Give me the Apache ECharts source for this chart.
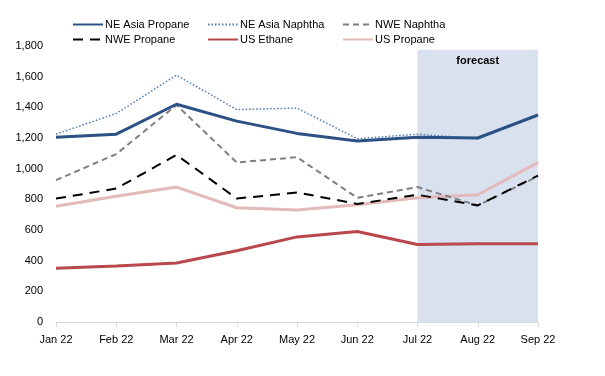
<!DOCTYPE html>
<html>
<head>
<meta charset="utf-8">
<script src="https://cdn.jsdelivr.net/npm/echarts@6/dist/echarts.min.js"></script>
<style>
  html, body { margin: 0; padding: 0; background: #fff; }
  #chart { width: 605px; height: 376px; }
</style>
</head>
<body>
<div id="chart"></div>
<script>
  var months = ['Jan 22', 'Feb 22', 'Mar 22', 'Apr 22', 'May 22', 'Jun 22', 'Jul 22', 'Aug 22', 'Sep 22'];
  var neAsiaPropane = [1205, 1225, 1420, 1310, 1230, 1180, 1205, 1200, 1350];
  var neAsiaNaphtha = [1225, 1360, 1610, 1385, 1395, 1195, 1225, 1195, 1350];
  var nweNaphtha = [925, 1095, 1415, 1040, 1075, 810, 880, 760, 950];
  var nwePropane = [805, 870, 1090, 805, 845, 770, 830, 760, 955];
  var usEthane = [350, 365, 385, 465, 555, 590, 505, 510, 510];
  var usPropane = [755, 820, 880, 745, 730, 765, 810, 830, 1040];
  var forecastFrom = 'Jul 22';
  var forecastTo = 'Sep 22';

  var font = '"Liberation Sans", Arial, sans-serif';

  function legendAt(name, left, top) {
    return {
      data: [name],
      left: left,
      top: top,
      itemWidth: 30,
      itemHeight: 10,
      padding: 0,
      itemStyle: { opacity: 0 },
      textStyle: { fontFamily: font, fontSize: 11, color: '#000', padding: [0, 0, 0, -3] }
    };
  }

  var chart = echarts.init(document.getElementById('chart'));
  chart.setOption({
    animation: false,
    textStyle: { fontFamily: font },
    legend: [
      legendAt('NE Asia Propane', 72, 19),
      legendAt('NE Asia Naphtha', 207, 19),
      legendAt('NWE Naphtha', 342, 19),
      legendAt('NWE Propane', 72, 34),
      legendAt('US Ethane', 207, 34),
      legendAt('US Propane', 342, 34)
    ],
    grid: { left: 56, right: 67, top: 46, bottom: 54 },
    xAxis: {
      type: 'category',
      data: months,
      boundaryGap: false,
      axisLine: { lineStyle: { color: '#d9d9d9', width: 1 } },
      axisTick: { show: true, alignWithLabel: true, length: 5, lineStyle: { color: '#d9d9d9' } },
      axisLabel: { color: '#000', fontSize: 11, margin: 12, fontFamily: font },
      splitLine: { show: false }
    },
    yAxis: {
      type: 'value',
      min: 0,
      max: 1800,
      interval: 200,
      axisLine: { show: false },
      axisTick: { show: false },
      splitLine: { show: false },
      axisLabel: {
        color: '#000', fontSize: 11, margin: 13, fontFamily: font,
        formatter: function (v) { return v.toLocaleString('en-US'); }
      }
    },
    series: [
      {
        name: 'NE Asia Propane', type: 'line', data: neAsiaPropane, symbol: 'none', z: 6,
        lineStyle: { color: '#2c5184', width: 3 }, itemStyle: { color: '#2c5184' },
        markArea: {
          silent: true,
          z: 0,
          itemStyle: { color: '#d9e1ef' },
          label: {
            show: true, position: 'insideTop', distance: 6,
            color: '#000', fontWeight: 'bold', fontSize: 11, fontFamily: font
          },
          data: [[{ name: 'forecast', xAxis: forecastFrom, yAxis: 0 }, { xAxis: forecastTo, yAxis: 1775 }]]
        }
      },
      {
        name: 'NE Asia Naphtha', type: 'line', data: neAsiaNaphtha, symbol: 'none', z: 5,
        lineStyle: { color: '#4f7bb0', width: 1.5, type: [1.5, 2] }, itemStyle: { color: '#4f7bb0' }
      },
      {
        name: 'NWE Naphtha', type: 'line', data: nweNaphtha, symbol: 'none', z: 4,
        lineStyle: { color: '#7f7f7f', width: 2, type: [6, 4] }, itemStyle: { color: '#7f7f7f' }
      },
      {
        name: 'NWE Propane', type: 'line', data: nwePropane, symbol: 'none', z: 4,
        lineStyle: { color: '#000', width: 2, type: [10, 7] }, itemStyle: { color: '#000' }
      },
      {
        name: 'US Ethane', type: 'line', data: usEthane, symbol: 'none', z: 4,
        lineStyle: { color: '#b9474b', width: 3 }, itemStyle: { color: '#b9474b' }
      },
      {
        name: 'US Propane', type: 'line', data: usPropane, symbol: 'none', z: 3,
        lineStyle: { color: '#e3b9ba', width: 3 }, itemStyle: { color: '#e3b9ba' }
      }
    ]
  });
</script>
</body>
</html>
